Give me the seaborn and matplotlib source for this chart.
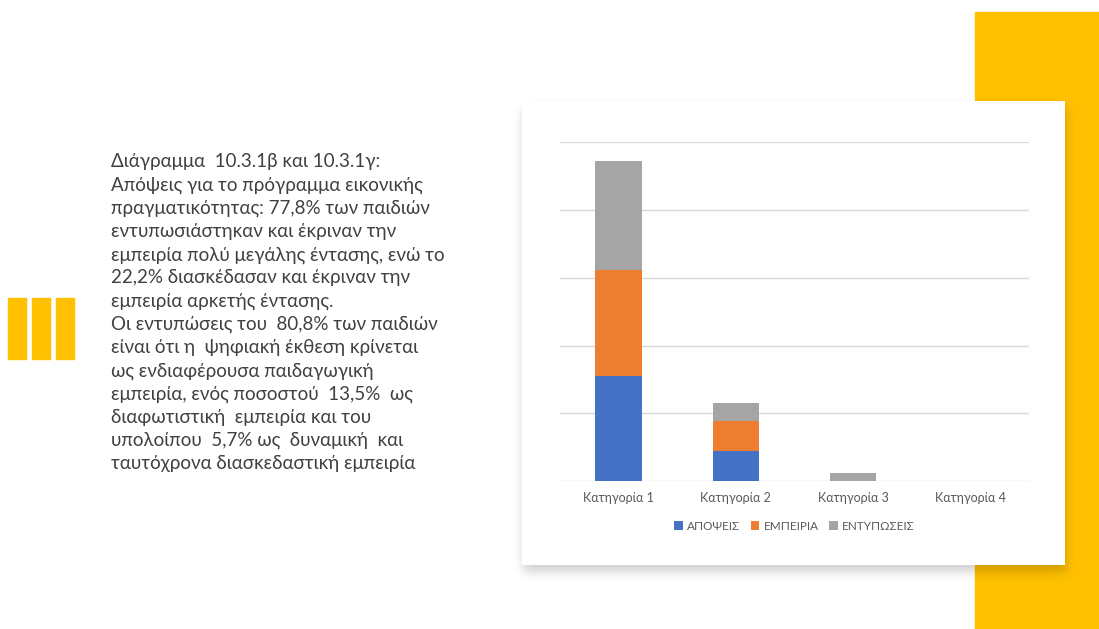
import numpy as np
import pandas as pd
import seaborn as sns
import matplotlib
matplotlib.use("Agg")
import matplotlib.pyplot as plt
from matplotlib.patches import Rectangle, Patch

# ---- data ----
categories = ["Κατηγορία 1", "Κατηγορία 2", "Κατηγορία 3", "Κατηγορία 4"]
series_names = ["ΑΠΟΨΕΙΣ", "ΕΜΠΕΙΡΙΑ", "ΕΝΤΥΠΩΣΕΙΣ"]
apopseis = [77.8, 22.2, 0.0, 0.0]
empeiria = [77.8, 22.2, 0.0, 0.0]
entyposeis = [80.8, 13.5, 5.7, 0.0]
series_colors = ["#4472C4", "#ED7D31", "#A5A5A5"]

caption_lines = [
    "Διάγραμμα  10.3.1β και 10.3.1γ:",
    "Απόψεις για το πρόγραμμα εικονικής",
    "πραγματικότητας: 77,8% των παιδιών",
    "εντυπωσιάστηκαν και έκριναν την",
    "εμπειρία πολύ μεγάλης έντασης, ενώ το",
    "22,2% διασκέδασαν και έκριναν την",
    "εμπειρία αρκετής έντασης.",
    "Οι εντυπώσεις του  80,8% των παιδιών",
    "είναι ότι η  ψηφιακή έκθεση κρίνεται",
    "ως ενδιαφέρουσα παιδαγωγική",
    "εμπειρία, ενός ποσοστού  13,5%  ως",
    "διαφωτιστική  εμπειρία και του",
    "υπολοίπου  5,7% ως  δυναμική  και",
    "ταυτόχρονα διασκεδαστική εμπειρία",
]

sns.set_theme(style="white")
plt.rcParams["font.family"] = ["Lato", "Open Sans", "DejaVu Sans"]

W, H = 1099, 629
fig = plt.figure(figsize=(W / 100, H / 100), dpi=100)
fig.patch.set_facecolor("white")

# ---- slide background in pixel coordinates ----
bg = fig.add_axes([0, 0, 1, 1])
bg.set_xlim(0, W)
bg.set_ylim(H, 0)
bg.axis("off")

yellow = "#FFC000"
bg.add_patch(Rectangle((975, 12), W - 975, H - 12, color=yellow, zorder=1))
for x0 in (8, 32, 56):
    bg.add_patch(Rectangle((x0, 298), 18, 61, color=yellow, zorder=1))

# soft drop shadow under the chart panel
px, py, pw, ph = 522, 101, 543, 464
mask = np.zeros((H, W))
mask[py + 7:py + ph + 7, px + 1:px + pw + 1] = 1.0
sig = 5.0
k = np.arange(-16, 17)
g = np.exp(-k ** 2 / (2 * sig ** 2))
g /= g.sum()
mask = np.apply_along_axis(lambda r: np.convolve(r, g, mode="same"), 1, mask)
mask = np.apply_along_axis(lambda c: np.convolve(c, g, mode="same"), 0, mask)
shadow = np.zeros((H, W, 4))
shadow[..., 3] = mask * 0.18
bg.imshow(shadow, extent=(0, W, H, 0), zorder=2, interpolation="bilinear", aspect="auto")
bg.add_patch(Rectangle((px, py), pw, ph, facecolor="white", edgecolor="none", zorder=3))

# caption text
for i, line in enumerate(caption_lines):
    bg.text(111, 162 + i * 23.2, line, fontsize=13.5, color="#404040",
            va="center", ha="left", zorder=4)

# ---- stacked bar chart ----
x0, x1 = 560, 1029
y_base, y_top = 481, 142.3
ax = fig.add_axes([x0 / W, 1 - y_base / H, (x1 - x0) / W, (y_base - y_top) / H])
ax.set_zorder(5)
ax.patch.set_alpha(0)

df = pd.DataFrame({"cat": categories, "a": apopseis, "e": empeiria, "t": entyposeis})
df["lvl1"] = df["a"]
df["lvl2"] = df["a"] + df["e"]
df["lvl3"] = df["a"] + df["e"] + df["t"]

for col, color in zip(["lvl3", "lvl2", "lvl1"], series_colors[::-1]):
    sns.barplot(data=df, x="cat", y=col, color=color, width=0.395,
                saturation=1, ax=ax, linewidth=0, zorder=3)

ax.set_ylim(0, 250)
ax.set_yticks(np.arange(0, 251, 50))
ax.set_xlim(-0.5, 3.5)
ax.grid(axis="y", color="#D9D9D9", linewidth=1, zorder=0)
ax.set_axisbelow(True)
for s in ax.spines.values():
    s.set_visible(False)
ax.tick_params(axis="y", left=False, labelleft=False)
ax.tick_params(axis="x", bottom=False, length=0, pad=8, labelsize=9, labelcolor="#595959")
ax.set_xlabel("")
ax.set_ylabel("")

handles = [Patch(facecolor=c, edgecolor="none") for c in series_colors]
leg = ax.legend(handles, series_names, loc="center", ncol=3,
                bbox_to_anchor=(0.5, -(526 - y_base) / (y_base - y_top)),
                frameon=False, fontsize=8.5, handlelength=0.75, handleheight=0.75,
                handletextpad=0.35, columnspacing=0.9, labelcolor="#595959")

fig.savefig("out.png", dpi=100)
